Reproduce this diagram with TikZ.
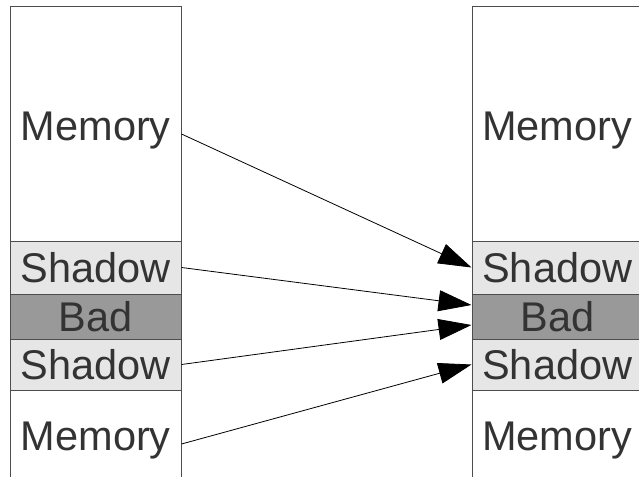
\documentclass[tikz,border=0pt]{standalone}
\usepackage{fontspec}
\setmainfont{Liberation Sans}
\usetikzlibrary{arrows.meta}

\definecolor{shadowgray}{HTML}{E6E6E6}
\definecolor{badgray}{HTML}{999999}
\definecolor{textgray}{HTML}{333333}
\definecolor{edgegray}{HTML}{4D4D4D}

\tikzset{
	cell/.style={draw=edgegray, line width=1pt, minimum width=170.5pt, inner sep=0pt,
		text=textgray, font=\fontsize{41.5}{45}\selectfont},
	shadowcell/.style={cell, fill=shadowgray},
	badcell/.style={cell, fill=badgray},
	memlabel/.style={cell, draw=none, anchor=base},
	column/.style={draw=edgegray, line width=1pt},
	map/.style={-{Triangle[length=33pt, width=21pt]}, line width=0.8pt}
}

\begin{document}
\begin{tikzpicture}[x=1pt, y=1pt]
	\useasboundingbox (0, 0) rectangle (639, -476);

	\draw[column] (10.5, -482) -- (10.5, -7) -- (181, -7) -- (181, -482);
	\draw[column] (472, -482) -- (472, -7) -- (642.5, -7) -- (642.5, -482);

	\node[shadowcell, minimum height=53pt] (shadowL1) at (95.75, -267.5) {Shadow};
	\node[badcell, minimum height=45pt] (badL) at (95.75, -316.5) {Bad};
	\node[shadowcell, minimum height=51pt] (shadowL2) at (95.75, -364.5) {Shadow};
	\node[memlabel] (memL1) at (95.75, -140) {Memory};
	\node[memlabel] (memL2) at (95.75, -450) {Memory};

	\node[shadowcell, minimum height=53pt] (shadowR1) at (557.25, -267.5) {Shadow};
	\node[badcell, minimum height=45pt] (badR) at (557.25, -316.5) {Bad};
	\node[shadowcell, minimum height=51pt] (shadowR2) at (557.25, -364.5) {Shadow};
	\node[memlabel] (memR1) at (557.25, -140) {Memory};
	\node[memlabel] (memR2) at (557.25, -450) {Memory};

	\draw[map] ([yshift=6pt]memL1.base east) -- (shadowR1.west);
	\draw[map] (shadowL1.east) -- ([yshift=11.5pt]badR.west);
	\draw[map] (shadowL2.east) -- ([yshift=-8.5pt]badR.west);
	\draw[map] ([yshift=6pt]memL2.base east) -- (shadowR2.west);

\end{tikzpicture}
\end{document}
